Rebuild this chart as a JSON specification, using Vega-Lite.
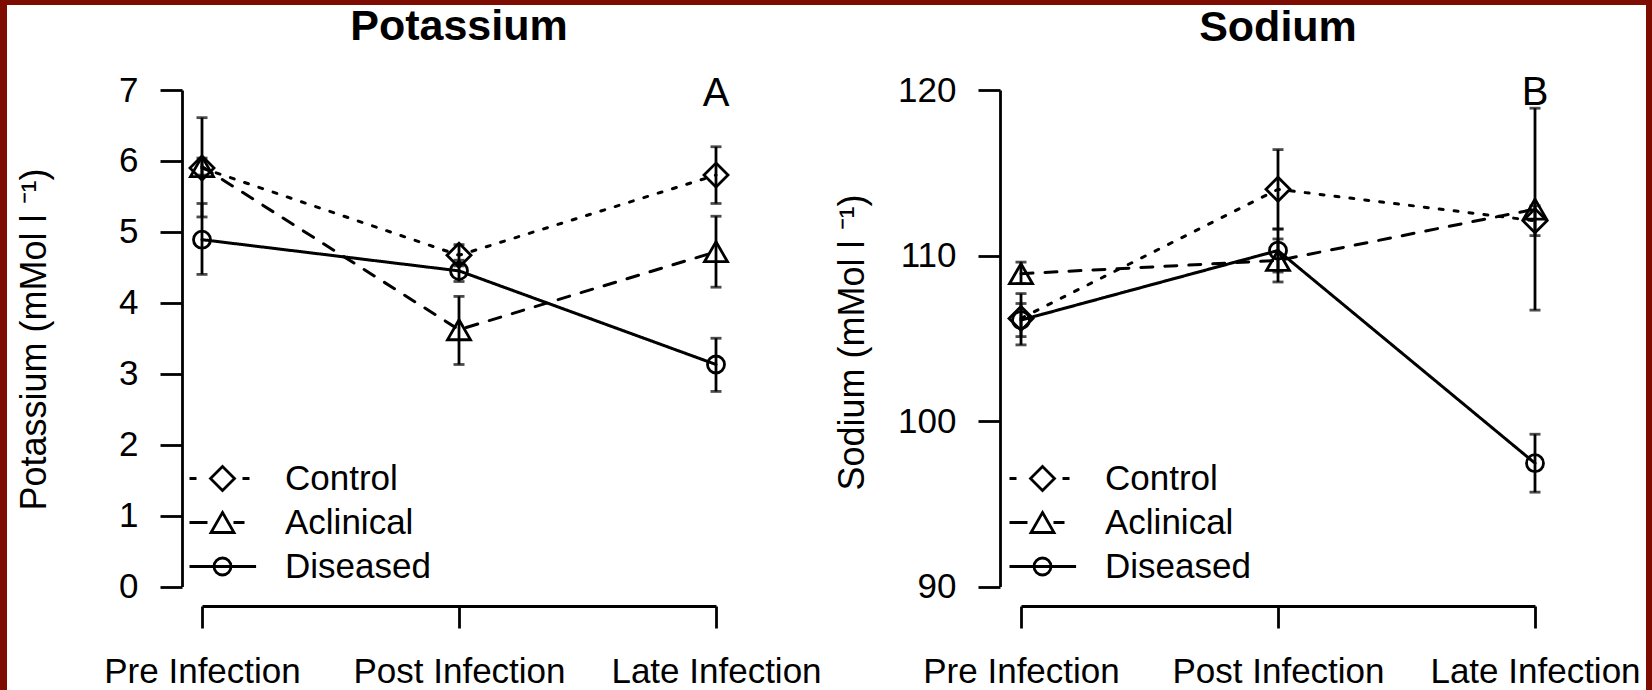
{
  "$schema": "https://vega.github.io/schema/vega-lite/v6.json",
  "width": 1639,
  "height": 685,
  "padding": {"left": 7, "top": 5, "right": 6, "bottom": 0},
  "autosize": {"type": "none"},
  "background": "#7f0c00",
  "config": {
    "font": "Liberation Sans",
    "view": {"fill": "white", "stroke": null},
    "axis": {
      "grid": false, "domainColor": "black", "tickColor": "black", "labelColor": "black", "titleColor": "black",
      "domainWidth": 2.8, "tickWidth": 2.8, "labelFontSize": 35, "titleFontSize": 36, "titleFontWeight": "normal",
      "labelFont": "Liberation Sans", "titleFont": "Liberation Sans", "tickSize": 22, "labelLimit": 500
    },
    "legend": {
      "orient": "none", "direction": "vertical", "title": null,
      "labelFontSize": 35, "labelColor": "black", "labelOffset": 45, "rowPadding": 8, "padding": 0,
      "symbolSize": 400, "labelFont": "Liberation Sans", "labelLimit": 500,
      "symbolStrokeColor": "black", "symbolFillColor": "transparent", "symbolStrokeWidth": 2.8, "symbolOpacity": 1
    }
  },
  "datasets": {
    "potassium": [
      {"time": "Pre Infection", "group": "Control", "mean": 5.90, "lo": 5.21, "hi": 6.61},
      {"time": "Post Infection", "group": "Control", "mean": 4.67, "lo": 4.52, "hi": 4.82},
      {"time": "Late Infection", "group": "Control", "mean": 5.80, "lo": 5.40, "hi": 6.20},
      {"time": "Pre Infection", "group": "Aclinical", "mean": 5.92, "lo": 5.80, "hi": 6.04},
      {"time": "Post Infection", "group": "Aclinical", "mean": 3.62, "lo": 3.13, "hi": 4.09},
      {"time": "Late Infection", "group": "Aclinical", "mean": 4.72, "lo": 4.22, "hi": 5.22},
      {"time": "Pre Infection", "group": "Diseased", "mean": 4.89, "lo": 4.40, "hi": 5.40},
      {"time": "Post Infection", "group": "Diseased", "mean": 4.45, "lo": 4.30, "hi": 4.60},
      {"time": "Late Infection", "group": "Diseased", "mean": 3.13, "lo": 2.75, "hi": 3.50}
    ],
    "sodium": [
      {"time": "Pre Infection", "group": "Control", "mean": 106.2, "lo": 105.1, "hi": 107.1},
      {"time": "Post Infection", "group": "Control", "mean": 114.0, "lo": 111.6, "hi": 116.4},
      {"time": "Late Infection", "group": "Control", "mean": 112.1, "lo": 111.2, "hi": 113.0},
      {"time": "Pre Infection", "group": "Aclinical", "mean": 108.9, "lo": 108.3, "hi": 109.6},
      {"time": "Post Infection", "group": "Aclinical", "mean": 109.7, "lo": 108.4, "hi": 111.0},
      {"time": "Late Infection", "group": "Aclinical", "mean": 112.8, "lo": 106.7, "hi": 118.9},
      {"time": "Pre Infection", "group": "Diseased", "mean": 106.1, "lo": 104.6, "hi": 107.7},
      {"time": "Post Infection", "group": "Diseased", "mean": 110.3, "lo": 109.0, "hi": 111.6},
      {"time": "Late Infection", "group": "Diseased", "mean": 97.45, "lo": 95.7, "hi": 99.2}
    ]
  },
  "layer": [
    {
      "data": {"name": "potassium"},
      "mark": {"type": "line", "color": "black", "strokeWidth": 3, "strokeCap": "round"},
      "encoding": {
        "x": {"field": "time", "type": "ordinal",
          "scale": {"type": "point", "domain": ["Pre Infection", "Post Infection", "Late Infection"], "range": [195, 709], "padding": 0},
          "axis": {"orient": "bottom", "offset": -84, "title": null, "labelAngle": 0, "labelPadding": 26}},
        "y": {"field": "mean", "type": "quantitative",
          "scale": {"domain": [0, 7], "range": [581.5, 85], "nice": false, "zero": false},
          "axis": {"orient": "left", "offset": -175, "values": [0, 1, 2, 3, 4, 5, 6, 7], "labelPadding": 22,
            "title": "Potassium (mMol l ⁻¹)", "titleX": -148, "titleY": 334, "titleAngle": -90, "titleBaseline": "middle", "titleAlign": "center"}},
        "strokeDash": {"field": "group", "type": "nominal",
          "scale": {"domain": ["Control", "Aclinical", "Diseased"], "range": [[4, 11], [12, 12], [1, 0]]}, "legend": null},
        "order": {"value": null}
      }
    },
    {
      "data": {"name": "potassium"},
      "mark": {"type": "errorbar", "color": "black", "ticks": true, "size": 11, "thickness": 2.8},
      "encoding": {
        "x": {"field": "time", "type": "ordinal", "axis": null,
          "scale": {"type": "point", "domain": ["Pre Infection", "Post Infection", "Late Infection"], "range": [195, 709], "padding": 0}},
        "y": {"field": "lo", "type": "quantitative", "axis": null,
          "scale": {"domain": [0, 7], "range": [581.5, 85], "nice": false, "zero": false}},
        "y2": {"field": "hi"}
      }
    },
    {
      "data": {"name": "potassium"},
      "mark": {"type": "point", "filled": false, "color": "black", "strokeWidth": 2.8, "opacity": 1, "size": 400},
      "encoding": {
        "x": {"field": "time", "type": "ordinal", "axis": null,
          "scale": {"type": "point", "domain": ["Pre Infection", "Post Infection", "Late Infection"], "range": [195, 709], "padding": 0}},
        "y": {"field": "mean", "type": "quantitative", "axis": null,
          "scale": {"domain": [0, 7], "range": [581.5, 85], "nice": false, "zero": false}},
        "shape": {"field": "group", "type": "nominal",
          "scale": {"domain": ["Control", "Aclinical", "Diseased"],
            "range": ["M0,-1.2L1.2,0L0,1.2L-1.2,0Z", "M0,-1.0L1.15,1.0L-1.15,1.0Z", "M0.85,0A0.85,0.85,0,1,1,-0.85,0A0.85,0.85,0,1,1,0.85,0Z"]},
          "legend": null}
      }
    },
    {
      "data": {"name": "potassium"},
      "mark": {"type": "point", "filled": false, "color": "black", "strokeWidth": 2.8, "opacity": 0, "size": 400},
      "encoding": {
        "x": {"field": "time", "type": "ordinal", "axis": null,
          "scale": {"type": "point", "domain": ["Pre Infection", "Post Infection", "Late Infection"], "range": [195, 709], "padding": 0}},
        "y": {"field": "mean", "type": "quantitative", "axis": null,
          "scale": {"domain": [0, 7], "range": [581.5, 85], "nice": false, "zero": false}},
        "shape": {"field": "group", "type": "nominal",
          "scale": {"domain": ["Control", "Aclinical", "Diseased"],
            "range": ["M-3.3,0H-2.6M2.0,0H2.7M0,-1.2L1.2,0L0,1.2L-1.2,0Z", "M-3.3,0H-1.5M1.1,0H2.2M0,-1.0L1.15,1.0L-1.15,1.0Z", "M-3.3,0H3.36M0.85,0A0.85,0.85,0,1,1,-0.85,0A0.85,0.85,0,1,1,0.85,0Z"]},
          "legend": {"legendX": 198, "legendY": 456}}
      }
    },
    {
      "data": {"values": [{"label": "Potassium"}]},
      "mark": {"type": "text", "fontSize": 43, "fontWeight": "bold", "align": "center", "baseline": "alphabetic", "color": "black"},
      "encoding": {
        "x": {"datum": "Post Infection", "type": "ordinal", "axis": null,
          "scale": {"type": "point", "domain": ["Pre Infection", "Post Infection", "Late Infection"], "range": [195, 709], "padding": 0}},
        "y": {"datum": 7.7, "type": "quantitative", "axis": null,
          "scale": {"domain": [0, 7], "range": [581.5, 85], "nice": false, "zero": false}},
        "text": {"field": "label"}
      }
    },
    {
      "data": {"values": [{"label": "A"}]},
      "mark": {"type": "text", "fontSize": 40, "align": "center", "baseline": "alphabetic", "color": "black"},
      "encoding": {
        "x": {"datum": "Late Infection", "type": "ordinal", "axis": null,
          "scale": {"type": "point", "domain": ["Pre Infection", "Post Infection", "Late Infection"], "range": [195, 709], "padding": 0}},
        "y": {"datum": 6.774, "type": "quantitative", "axis": null,
          "scale": {"domain": [0, 7], "range": [581.5, 85], "nice": false, "zero": false}},
        "text": {"field": "label"}
      }
    },
    {
      "data": {"name": "sodium"},
      "mark": {"type": "line", "color": "black", "strokeWidth": 3, "strokeCap": "round"},
      "encoding": {
        "x": {"field": "time", "type": "ordinal",
          "scale": {"type": "point", "domain": ["Pre Infection", "Post Infection", "Late Infection"], "range": [1014, 1528], "padding": 0},
          "axis": {"orient": "bottom", "offset": -84, "title": null, "labelAngle": 0, "labelPadding": 26}},
        "y": {"field": "mean", "type": "quantitative",
          "scale": {"domain": [90, 120], "range": [581.5, 85], "nice": false, "zero": false},
          "axis": {"orient": "left", "offset": -993, "values": [90, 100, 110, 120], "labelPadding": 22,
            "title": "Sodium (mMol l ⁻¹)", "titleX": -148, "titleY": 337, "titleAngle": -90, "titleBaseline": "middle", "titleAlign": "center"}},
        "strokeDash": {"field": "group", "type": "nominal",
          "scale": {"domain": ["Control", "Aclinical", "Diseased"], "range": [[4, 11], [12, 12], [1, 0]]}, "legend": null},
        "order": {"value": null}
      }
    },
    {
      "data": {"name": "sodium"},
      "mark": {"type": "errorbar", "color": "black", "ticks": true, "size": 11, "thickness": 2.8},
      "encoding": {
        "x": {"field": "time", "type": "ordinal", "axis": null,
          "scale": {"type": "point", "domain": ["Pre Infection", "Post Infection", "Late Infection"], "range": [1014, 1528], "padding": 0}},
        "y": {"field": "lo", "type": "quantitative", "axis": null,
          "scale": {"domain": [90, 120], "range": [581.5, 85], "nice": false, "zero": false}},
        "y2": {"field": "hi"}
      }
    },
    {
      "data": {"name": "sodium"},
      "mark": {"type": "point", "filled": false, "color": "black", "strokeWidth": 2.8, "opacity": 1, "size": 400},
      "encoding": {
        "x": {"field": "time", "type": "ordinal", "axis": null,
          "scale": {"type": "point", "domain": ["Pre Infection", "Post Infection", "Late Infection"], "range": [1014, 1528], "padding": 0}},
        "y": {"field": "mean", "type": "quantitative", "axis": null,
          "scale": {"domain": [90, 120], "range": [581.5, 85], "nice": false, "zero": false}},
        "shape": {"field": "group", "type": "nominal",
          "scale": {"domain": ["Control", "Aclinical", "Diseased"],
            "range": ["M0,-1.2L1.2,0L0,1.2L-1.2,0Z", "M0,-1.0L1.15,1.0L-1.15,1.0Z", "M0.85,0A0.85,0.85,0,1,1,-0.85,0A0.85,0.85,0,1,1,0.85,0Z"]},
          "legend": null}
      }
    },
    {
      "data": {"name": "sodium"},
      "mark": {"type": "point", "filled": false, "color": "black", "strokeWidth": 2.8, "opacity": 0, "size": 400},
      "encoding": {
        "x": {"field": "time", "type": "ordinal", "axis": null,
          "scale": {"type": "point", "domain": ["Pre Infection", "Post Infection", "Late Infection"], "range": [1014, 1528], "padding": 0}},
        "y": {"field": "mean", "type": "quantitative", "axis": null,
          "scale": {"domain": [90, 120], "range": [581.5, 85], "nice": false, "zero": false}},
        "shape": {"field": "group", "type": "nominal",
          "scale": {"domain": ["Control", "Aclinical", "Diseased"],
            "range": ["M-3.3,0H-2.6M2.0,0H2.7M0,-1.2L1.2,0L0,1.2L-1.2,0Z", "M-3.3,0H-1.5M1.1,0H2.2M0,-1.0L1.15,1.0L-1.15,1.0Z", "M-3.3,0H3.36M0.85,0A0.85,0.85,0,1,1,-0.85,0A0.85,0.85,0,1,1,0.85,0Z"]},
          "legend": {"legendX": 1018, "legendY": 456}}
      }
    },
    {
      "data": {"values": [{"label": "Sodium"}]},
      "mark": {"type": "text", "fontSize": 43, "fontWeight": "bold", "align": "center", "baseline": "alphabetic", "color": "black"},
      "encoding": {
        "x": {"datum": "Post Infection", "type": "ordinal", "axis": null,
          "scale": {"type": "point", "domain": ["Pre Infection", "Post Infection", "Late Infection"], "range": [1014, 1528], "padding": 0}},
        "y": {"datum": 122.95, "type": "quantitative", "axis": null,
          "scale": {"domain": [90, 120], "range": [581.5, 85], "nice": false, "zero": false}},
        "text": {"field": "label"}
      }
    },
    {
      "data": {"values": [{"label": "B"}]},
      "mark": {"type": "text", "fontSize": 40, "align": "center", "baseline": "alphabetic", "color": "black"},
      "encoding": {
        "x": {"datum": "Late Infection", "type": "ordinal", "axis": null,
          "scale": {"type": "point", "domain": ["Pre Infection", "Post Infection", "Late Infection"], "range": [1014, 1528], "padding": 0}},
        "y": {"datum": 119.09, "type": "quantitative", "axis": null,
          "scale": {"domain": [90, 120], "range": [581.5, 85], "nice": false, "zero": false}},
        "text": {"field": "label"}
      }
    }
  ],
  "resolve": {
    "scale": {"x": "independent", "y": "independent", "shape": "independent", "strokeDash": "independent"},
    "axis": {"x": "independent", "y": "independent"},
    "legend": {"shape": "independent", "strokeDash": "independent"}
  }
}
